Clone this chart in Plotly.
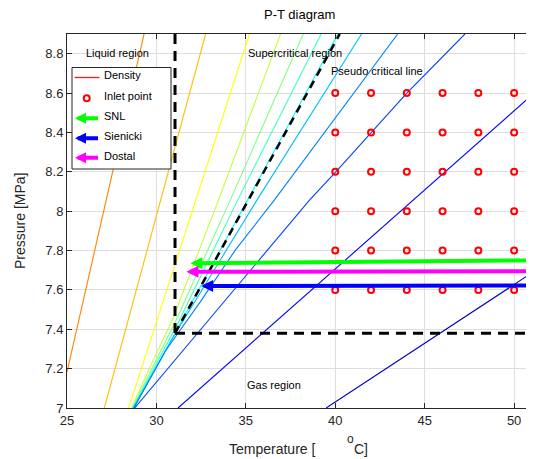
import plotly.graph_objects as go

# ---------------- data ----------------
# Density isolines: temperature [°C] and pressure [MPa] points, one list per line
dens_T = [
    [25.0, 29.31],
    [27.09, 32.75],
    [28.45, 35.20],
    [28.62, 29.6, 30.9, 33.47, 36.94],
    [28.65, 31.1, 34.13, 38.21],
    [28.68, 31.2, 34.54, 39.21],
    [28.70, 31.04, 40.15],
    [28.72, 31.0, 35.62, 41.47],
    [28.74, 30.5, 32.45, 34.41, 36.59, 43.49],
    [28.78, 32.92, 38.56, 40.03, 44.0, 47.25],
    [31.21, 51.0],
    [39.49, 51.0],
]
dens_P = [
    [7.183, 8.9],
    [7.0, 8.9],
    [7.0, 8.9],
    [7.0, 7.2, 7.45, 8.056, 8.9],
    [7.0, 7.446, 8.056, 8.9],
    [7.0, 7.43, 8.056, 8.9],
    [7.0, 7.38, 8.9],
    [7.0, 7.37, 8.056, 8.9],
    [7.0, 7.29, 7.539, 7.802, 8.056, 8.9],
    [7.0, 7.446, 8.056, 8.2, 8.6, 8.9],
    [7.0, 8.59],
    [7.0, 7.687],
]
dens_colors = ["#FF8000", "#FFBF00", "#FFFF00", "#BFFF40", "#80FF80", "#40FFBF",
               "#00FFFF", "#00BFFF", "#0080FF", "#0040FF", "#0000FF", "#0000BF"]

inlet_T = [40, 42, 44, 46, 48, 50]
inlet_P = [7.6, 7.8, 8.0, 8.2, 8.4, 8.6]

crit_T = 31.04
crit_P = 7.38
pseudo_T = [31.04, 40.25]
pseudo_P = [7.38, 8.9]

arrow_names = ["SNL", "Sienicki", "Dostal"]
arrow_colors = ["#00FF00", "#0000FF", "#FF00FF"]
arrow_start_T = [51.0, 51.0, 51.0]
arrow_start_P = [7.75, 7.622, 7.695]
arrow_end_T = [31.9, 32.5, 31.68]
arrow_end_P = [7.735, 7.62, 7.692]

region_labels = ["Liquid region", "Supercritical region", "Pseudo critical line", "Gas region"]
region_T = [27.80, 37.74, 42.32, 36.56]
region_P = [8.803, 8.803, 8.71, 7.116]

legend_labels = ["Density", "Inlet point", "SNL", "Sienicki", "Dostal"]

x_ticks = [25, 30, 35, 40, 45, 50]
y_ticks = [7, 7.2, 7.4, 7.6, 7.8, 8, 8.2, 8.4, 8.6, 8.8]
y_ticklabels = ["7", "7.2", "7.4", "7.6", "7.8", "8", "8.2", "8.4", "8.6", "8.8"]

# ---------------- figure ----------------
FONT = "Liberation Sans, Arial, Helvetica, sans-serif"
AX = "#262626"
fig = go.Figure()

for T, P, c in zip(dens_T, dens_P, dens_colors):
    fig.add_trace(go.Scatter(x=T, y=P, mode="lines", line=dict(color=c, width=1.1),
                             hoverinfo="skip"))

# dashed black boundaries
dash = "10px,7px"
fig.add_trace(go.Scatter(x=[crit_T, crit_T], y=[8.9, crit_P], mode="lines",
                         line=dict(color="black", width=3, dash=dash)))
fig.add_trace(go.Scatter(x=[crit_T, 51.0], y=[crit_P, crit_P], mode="lines",
                         line=dict(color="black", width=3, dash=dash)))
fig.add_trace(go.Scatter(x=pseudo_T, y=pseudo_P, mode="lines",
                         line=dict(color="black", width=2.5, dash="8px,6px")))

Tg, Pg = [], []
for p in inlet_P:
    for t in inlet_T:
        Tg.append(t)
        Pg.append(p)
fig.add_trace(go.Scatter(x=Tg, y=Pg, mode="markers", name="Inlet point",
                         marker=dict(symbol="circle-open", size=6, color="red",
                                     line=dict(width=2, color="red"))))

annotations = []
for i in range(3):
    annotations.append(dict(x=arrow_end_T[i], y=arrow_end_P[i], ax=arrow_start_T[i], ay=arrow_start_P[i],
                            xref="x", yref="y", axref="x", ayref="y", text="", showarrow=True,
                            arrowhead=2, arrowsize=0.6, arrowwidth=4, arrowcolor=arrow_colors[i]))
for lab, t, p in zip(region_labels, region_T, region_P):
    annotations.append(dict(x=t, y=p, xref="x", yref="y", text=lab, showarrow=False,
                            font=dict(family=FONT, size=11, color="black"),
                            xanchor="center", yanchor="middle"))

# page pixel -> paper helpers (plot area in page pixels)
L, R, TOP, BOT = 67, 532, 34, 408
def px(x):
    return (x - L) / (R - L)
def py(y):
    return (BOT - y) / (BOT - TOP)

annotations += [
    dict(x=px(272), y=py(449.5), xref="paper", yref="paper", text="Temperature [", showarrow=False,
         font=dict(family=FONT, size=14, color=AX), xanchor="center", yanchor="middle"),
    dict(x=px(350), y=py(438.5), xref="paper", yref="paper", text="o", showarrow=False,
         font=dict(family=FONT, size=12, color=AX), xanchor="center", yanchor="middle"),
    dict(x=px(361), y=py(449.5), xref="paper", yref="paper", text="C]", showarrow=False,
         font=dict(family=FONT, size=14, color=AX), xanchor="center", yanchor="middle"),
    dict(x=px(20), y=py(221), xref="paper", yref="paper", text="Pressure [MPa]", showarrow=False,
         textangle=-90, font=dict(family=FONT, size=14, color=AX), xanchor="center", yanchor="middle"),
    dict(x=px(299), y=py(14), xref="paper", yref="paper", text="P-T diagram", showarrow=False,
         font=dict(family=FONT, size=13, color="black"), xanchor="center", yanchor="middle"),
]

# ---- manual legend (box, samples, labels) ----
shapes = [
    dict(type="rect", xref="paper", yref="paper", x0=px(72), x1=px(171), y0=py(67.5), y1=py(169),
         line=dict(color=AX, width=1), fillcolor="white", layer="above"),
    dict(type="line", xref="paper", yref="paper", x0=px(74.5), x1=px(99.5), y0=py(77.5), y1=py(77.5),
         line=dict(color="#FF1A1A", width=1.3), layer="above"),
    dict(type="circle", xref="paper", yref="paper", x0=px(83.7), x1=px(89.7), y0=py(95.3), y1=py(101.3),
         line=dict(color="red", width=2), layer="above"),
]
leg_text_y = [75, 95.5, 116, 136, 156]
leg_arrow_y = [118.3, 138.3, 157.7]
leg_arrow_colors = [arrow_colors[0], arrow_colors[1], arrow_colors[2]]
for lab, yy in zip(legend_labels, leg_text_y):
    annotations.append(dict(x=px(102), y=py(yy), xref="paper", yref="paper", text=lab, showarrow=False,
                            font=dict(family=FONT, size=11, color="black"),
                            xanchor="left", yanchor="middle"))
for yy, c in zip(leg_arrow_y, leg_arrow_colors):
    annotations.append(dict(x=px(75), y=py(yy), xref="paper", yref="paper", ax=24.5, ay=0,
                            text="", showarrow=True, arrowhead=2, arrowsize=0.55, arrowwidth=4,
                            arrowcolor=c))

axis_common = dict(showline=True, linecolor=AX, linewidth=1, mirror="ticks", ticks="inside",
                   ticklen=5, tickcolor=AX, showgrid=True, gridcolor="#DEDEDE", gridwidth=1,
                   zeroline=False, tickfont=dict(family=FONT, size=13, color=AX))

# the page body adds an 8px offset; compensate so the plot area lands at L..R, TOP..BOT
OFF = 8
W, H = 534 - OFF, 459 - OFF
fig.update_layout(
    width=W, height=H,
    margin=dict(l=L - OFF, r=534 - R, t=TOP - OFF, b=459 - BOT, pad=0),
    paper_bgcolor="white", plot_bgcolor="white",
    xaxis=dict(range=[25, 51], tickvals=x_ticks, **axis_common),
    yaxis=dict(range=[7, 8.9], tickvals=y_ticks, ticktext=y_ticklabels, **axis_common),
    annotations=annotations,
    shapes=shapes,
    showlegend=False,
)

fig.write_html("out.html")
